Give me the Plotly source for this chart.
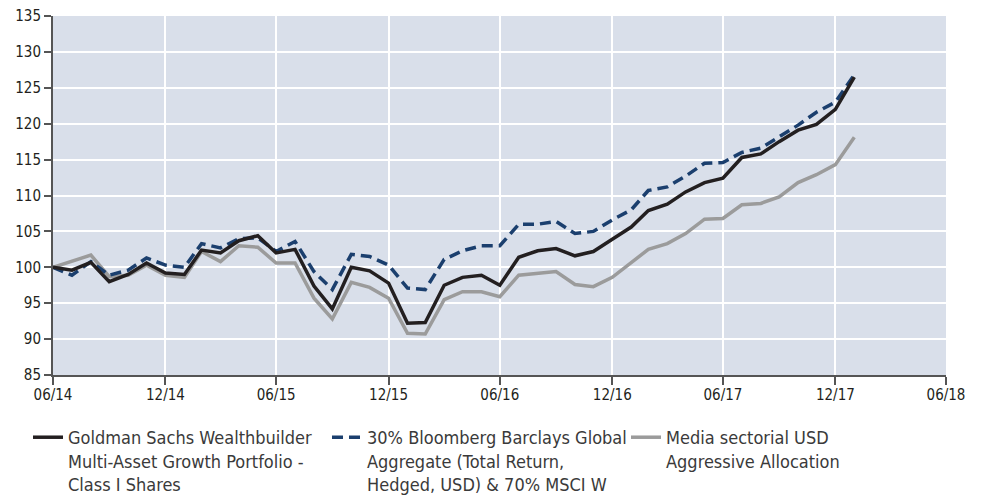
import pandas as pd
import plotly.graph_objects as go

dates = pd.date_range(start="2014-06-30", periods=44, freq=pd.offsets.MonthEnd())

fund = [100.0, 99.6, 100.7, 98.0, 99.0, 100.6, 99.2, 99.0, 102.4, 102.0, 103.7, 104.4, 102.0, 102.5,
        97.4, 94.2, 100.0, 99.5, 97.8, 92.2, 92.3, 97.5, 98.6, 98.9, 97.5, 101.4, 102.3, 102.6,
        101.6, 102.2, 103.9, 105.6, 107.9, 108.8, 110.5, 111.8, 112.4, 115.3, 115.8, 117.5,
        119.1, 119.9, 122.0, 126.5]
bench = [100.0, 98.9, 100.8, 98.9, 99.6, 101.3, 100.3, 100.0, 103.3, 102.7, 104.0, 104.1, 102.2, 103.6,
         99.4, 96.9, 101.8, 101.5, 100.3, 97.1, 96.9, 101.1, 102.3, 103.0, 103.0, 106.0, 106.0, 106.4,
         104.7, 105.0, 106.6, 108.0, 110.7, 111.2, 112.7, 114.5, 114.6, 116.0, 116.6, 118.2,
         119.8, 121.6, 123.0, 126.8]
peer = [100.0, 100.9, 101.7, 98.7, 98.9, 100.3, 98.9, 98.6, 102.2, 100.8, 103.0, 102.8, 100.6, 100.6,
        95.7, 92.8, 97.9, 97.2, 95.7, 90.8, 90.7, 95.5, 96.6, 96.6, 95.9, 98.9, 99.1, 99.4,
        97.6, 97.3, 98.6, 100.6, 102.5, 103.3, 104.7, 106.7, 106.8, 108.7, 108.9, 109.8,
        111.8, 112.9, 114.3, 118.1]

names = [
    "Goldman Sachs Wealthbuilder<br>Multi-Asset Growth Portfolio -<br>Class I Shares",
    "30% Bloomberg Barclays Global<br>Aggregate (Total Return,<br>Hedged, USD) & 70% MSCI W",
    "Media sectorial USD<br>Aggressive Allocation",
]

tick_vals = pd.date_range(start="2014-06-30", end="2018-06-30", freq=pd.offsets.MonthEnd(6))
tick_text = ["06/14", "12/14", "06/15", "12/15", "06/16", "12/16", "06/17", "12/17", "06/18"]

FONT = "DejaVu Sans Condensed, Liberation Sans, sans-serif"

fig = go.Figure()
fig.add_trace(go.Scatter(x=dates, y=peer, mode="lines", name=names[2], legendrank=3,
                         line=dict(color="#9b9b9b", width=3.5)))
fig.add_trace(go.Scatter(x=dates, y=bench, mode="lines", name=names[1], legendrank=2,
                         line=dict(color="#1b3f6e", width=3.5, dash="11px,6px")))
fig.add_trace(go.Scatter(x=dates, y=fund, mode="lines", name=names[0], legendrank=1,
                         line=dict(color="#231f20", width=3.5)))

# the page body adds an 8px offset, so the figure is sized to fill the window
fig.update_layout(
    width=974, height=496,
    margin=dict(l=45, r=36, t=8, b=129, autoexpand=False),
    paper_bgcolor="white",
    plot_bgcolor="#d9dfea",
    font=dict(family=FONT, size=15, color="#231f20"),
    showlegend=True,
    legend=dict(orientation="h", x=-0.028, xanchor="left", y=-0.1226, yanchor="top",
                valign="top", font=dict(family=FONT, size=18, color="#3a3a3a"),
                traceorder="normal", entrywidth=254, itemwidth=30,
                bgcolor="rgba(0,0,0,0)"),
    xaxis=dict(type="date", range=[tick_vals[0], tick_vals[-1]],
               tickmode="array", tickvals=tick_vals, ticktext=tick_text,
               showgrid=True, gridcolor="white", gridwidth=2,
               showline=True, linecolor="#555555", linewidth=2,
               ticks="outside", ticklen=8, tickwidth=2, tickcolor="#555555",
               ticklabeloverflow="allow", ticklabelstandoff=-3,
               zeroline=False, fixedrange=True),
    yaxis=dict(range=[85, 135], dtick=5, tick0=85,
               showgrid=True, gridcolor="white", gridwidth=2,
               showline=True, linecolor="#555555", linewidth=2,
               ticks="outside", ticklen=7, tickwidth=2, tickcolor="#555555",
               ticklabeloverflow="allow",
               zeroline=False, fixedrange=True),
)

fig.write_html("out.html")
